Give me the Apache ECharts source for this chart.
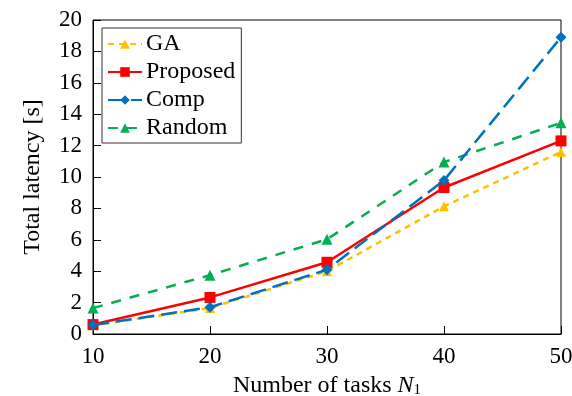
<!DOCTYPE html>
<html><head><meta charset="utf-8">
<script src="https://cdn.jsdelivr.net/npm/echarts@6/dist/echarts.min.js"></script>
<style>html,body{margin:0;padding:0;background:#fff}#c{width:572px;height:396px}</style>
</head><body><div id="c"></div>
<script>
const tasks = [10, 20, 30, 40, 50];
const gaValues = [0.55, 1.65, 4.0, 8.13, 11.6];
const proposedValues = [0.6, 2.33, 4.57, 9.33, 12.3];
const compValues = [0.57, 1.7, 4.1, 9.78, 18.9];
const randomValues = [1.65, 3.75, 6.03, 10.95, 13.45];
const seriesNames = ['GA', 'Proposed', 'Comp', 'Random'];

const pair = v => tasks.map((t, i) => [t, v[i]]);
const font = 'Liberation Serif';
const chart = echarts.init(document.getElementById('c'));
chart.setOption({
  animation: false,
  textStyle: {fontFamily: font},
  grid: {left: 93, right: 11, top: 20, bottom: 62, containLabel: false, outerBoundsMode: 'none',
         show: true, borderColor: '#000', borderWidth: 1},
  legend: {
    orient: 'vertical', left: 102, top: 28,
    backgroundColor: '#fff', borderColor: '#333', borderWidth: 1,
    padding: [4, 6, 3, 5], itemGap: 4, itemWidth: 34, itemHeight: 12,
    textStyle: {fontFamily: font, fontSize: 24, color: '#000', padding: [0, 0, 0, -1]},
    data: seriesNames
  },
  xAxis: {
    type: 'value', min: 10, max: 50, interval: 10,
    name: '{n|Number of tasks }{i|N}{s|1}', nameLocation: 'middle', nameGap: 40,
    nameTextStyle: {rich: {
      n: {fontFamily: font, fontSize: 24, color: '#000'},
      i: {fontFamily: font, fontSize: 24, fontStyle: 'italic', color: '#000'},
      s: {fontFamily: font, fontSize: 15, color: '#000', verticalAlign: 'bottom', padding: [9, 0, 0, 0]}
    }},
    axisLine: {lineStyle: {color: '#000'}},
    axisTick: {inside: true, length: 8, lineStyle: {color: '#000'}},
    axisLabel: {fontFamily: font, fontSize: 23, color: '#000', margin: 11},
    splitLine: {show: false}
  },
  yAxis: {
    type: 'value', min: 0, max: 20, interval: 2,
    name: 'Total latency [s]', nameLocation: 'middle', nameGap: 48,
    nameTextStyle: {fontFamily: font, fontSize: 24, color: '#000'},
    axisLine: {show: true, lineStyle: {color: '#000'}},
    axisTick: {show: true, inside: true, length: 8, lineStyle: {color: '#000'}},
    axisLabel: {fontFamily: font, fontSize: 23, color: '#000', margin: 11},
    splitLine: {show: false}
  },
  series: [
    {name: 'GA', type: 'line', data: pair(gaValues), symbol: 'triangle', symbolSize: 10,
     lineStyle: {color: '#FFC000', width: 2.5, type: [6, 5]}, itemStyle: {color: '#FFC000'}, z: 2},
    {name: 'Proposed', type: 'line', data: pair(proposedValues), symbol: 'rect', symbolSize: 11,
     lineStyle: {color: '#FF0000', width: 2.5, type: 'solid'}, itemStyle: {color: '#FF0000'}, z: 3},
    {name: 'Comp', type: 'line', data: pair(compValues), symbol: 'diamond', symbolSize: 11,
     lineStyle: {color: '#0070C0', width: 2.5, type: [16, 7]}, itemStyle: {color: '#0070C0'}, z: 4},
    {name: 'Random', type: 'line', data: pair(randomValues), symbol: 'triangle', symbolSize: 11,
     lineStyle: {color: '#00B050', width: 2.5, type: [10, 9]}, itemStyle: {color: '#00B050'}, z: 1}
  ]
});
</script></body></html>
